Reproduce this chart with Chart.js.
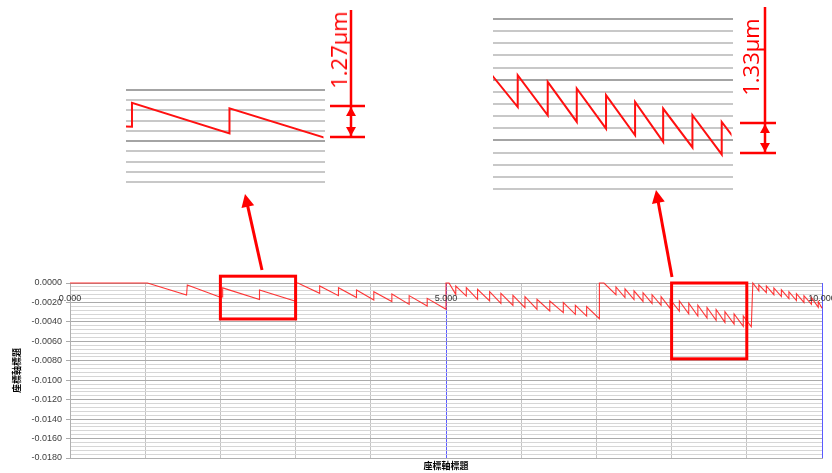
<!DOCTYPE html>
<html>
<head>
<meta charset="utf-8">
<script src="https://cdn.jsdelivr.net/npm/chart.js@4.4.0/dist/chart.umd.min.js"></script>
<style>
  html, body { margin: 0; padding: 0; background: #fff; }
  #wrap { position: relative; width: 832px; height: 473px; overflow: hidden; }
  canvas { position: absolute; }
  .dim {
    position: absolute; color: #ff0000; font-family: "Open Sans", sans-serif;
    font-size: 22px; line-height: 1; white-space: nowrap;
    transform: translate(-50%, -50%) rotate(-90deg);
  }
</style>
</head>
<body>
<div id="wrap">
  <canvas id="main" width="832" height="473" style="left:0;top:0"></canvas>
  <canvas id="zoomA" width="203" height="96" style="left:124px;top:88px"></canvas>
  <canvas id="zoomB" width="244" height="174" style="left:491px;top:17px"></canvas>
  <div class="dim" style="left:338px;top:50px">1.27μm</div>
  <div class="dim" style="left:750px;top:57px">1.33μm</div>
</div>
<script>
// measured profile, one array per pass: [position, deviation]
const pass1 = [[0, 0], [1.03, 0]];
const pass2 = [[1.55, -0.00123], [1.56, -0.0002], [1.99, -0.00143], [2.03, -0.00144]];
const pass3 = [[2.03, -0.0005], [2.52, -0.0017], [2.52, -0.00072], [3.0, -0.00187]];
const pass4 = [[3.0, 0], [3.03, 0], [3.32, -0.00106], [3.32, -0.0003], [3.57, -0.0013], [3.57, -0.00048],
               [3.81, -0.0015], [3.81, -0.00072], [4.04, -0.00175], [4.04, -0.0009], [4.28, -0.0019],
               [4.28, -0.00113], [4.51, -0.0022], [4.51, -0.0013], [4.75, -0.00237], [4.75, -0.00158],
               [5.0, -0.0027]];
const pass5 = [[5.0, 0], [5.04, 0], [5.13, -0.00117], [5.13, -0.00031], [5.27, -0.00134], [5.27, -0.00048],
               [5.42, -0.00168], [5.42, -0.00065], [5.58, -0.00185], [5.58, -0.00089], [5.73, -0.00209],
               [5.73, -0.00106], [5.89, -0.0023], [5.89, -0.00127], [6.05, -0.00254], [6.05, -0.0014],
               [6.21, -0.00271], [6.21, -0.00168], [6.38, -0.00288], [6.38, -0.00185], [6.56, -0.00305],
               [6.56, -0.00202], [6.72, -0.00322], [6.72, -0.0023], [6.87, -0.0034], [6.87, -0.00243],
               [7.04, -0.00367]];
const pass6 = [[7.04, 0], [7.10, 0], [7.26, -0.0012], [7.26, -0.0004], [7.38, -0.0015], [7.38, -0.0006],
               [7.50, -0.0017], [7.50, -0.0008], [7.62, -0.0019], [7.62, -0.0010], [7.74, -0.0021],
               [7.74, -0.0012], [7.86, -0.0023], [7.86, -0.0014], [7.98, -0.0026], [7.98, -0.0017],
               [8.103, -0.0029], [8.103, -0.00185], [8.228, -0.00317], [8.228, -0.00207], [8.349, -0.00339],
               [8.349, -0.00229], [8.471, -0.00361], [8.471, -0.00251], [8.592, -0.00383], [8.592, -0.00273],
               [8.709, -0.00405], [8.709, -0.00295], [8.831, -0.00423], [8.831, -0.00317], [8.953, -0.00446],
               [8.953, -0.00339], [9.06, -0.0045]];
const pass7 = [[9.08, 0], [9.16, -0.0008], [9.16, -0.0002], [9.26, -0.0010], [9.26, -0.0003], [9.36, -0.0012],
               [9.36, -0.0005], [9.46, -0.0014], [9.46, -0.0007], [9.56, -0.0016], [9.56, -0.0009],
               [9.66, -0.0018], [9.66, -0.0011], [9.76, -0.0020], [9.76, -0.0013], [9.86, -0.0022],
               [9.86, -0.0015], [9.95, -0.0025], [9.95, -0.0019], [10.0, -0.0026]];

const yTickValues = [0, -0.002, -0.004, -0.006, -0.008, -0.010, -0.012, -0.014, -0.016, -0.018];
const yTickLabels = ["0.0000", "-0.0020", "-0.0040", "-0.0060", "-0.0080", "-0.0100",
                     "-0.0120", "-0.0140", "-0.0160", "-0.0180"];
const xGridValues = [0, 1, 2, 3, 4, 5, 6, 7, 8, 9, 10];
const xLabelValues = [0, 5, 10];
const xLabels = ["0.000", "5.000", "10.000"];
const axisTitle = "座標軸標題";

// zoomed regions of the main plot (data units)
const zoomBoxes = [
    { x0: 2.0, x1: 3.0, y0: 0.0007, y1: -0.0037 },
    { x0: 8.0, x1: 9.0, y0: 0.0,    y1: -0.0078 },
];

const points = [...pass1, ...pass2, ...pass3, ...pass4, ...pass5, ...pass6, ...pass7]
    .map(([x, y]) => ({ x, y }));

const RED = "#ff0000";
const LABEL_FONT = '"Liberation Sans", Arial, sans-serif';

function isMajor(v) {
    const r = v / 0.002;
    return Math.abs(r - Math.round(r)) < 1e-6;
}

// minor grid every 0.0004 down to the axis minimum
function gridTicks(min) {
    const out = [];
    const n = Math.round(-min / 0.0004);
    for (let i = 0; i <= n; i++) out.push({ value: -i * 4 / 10000 });
    return out;
}

function arrow(ctx, x0, y0, x1, y1, head) {
    const a = Math.atan2(y1 - y0, x1 - x0);
    const c = Math.cos(a), s = Math.sin(a);
    ctx.beginPath();
    ctx.moveTo(x0, y0);
    ctx.lineTo(x1 - c * head * 0.8, y1 - s * head * 0.8);
    ctx.stroke();
    ctx.beginPath();
    ctx.moveTo(x1, y1);
    ctx.lineTo(x1 - head * c + head * 0.5 * s, y1 - head * s - head * 0.5 * c);
    ctx.lineTo(x1 - head * c - head * 0.5 * s, y1 - head * s + head * 0.5 * c);
    ctx.closePath();
    ctx.fill();
}

function dimension(ctx, x, yTop, y1, y2, xa, xb) {
    ctx.lineWidth = 2.5;
    ctx.beginPath();
    ctx.moveTo(x, yTop); ctx.lineTo(x, y2);
    ctx.moveTo(xa, y1);  ctx.lineTo(xb, y1);
    ctx.moveTo(xa, y2);  ctx.lineTo(xb, y2);
    ctx.stroke();
    // double-headed arrow between the two ticks
    ctx.beginPath();
    ctx.moveTo(x, y1 + 1); ctx.lineTo(x - 5, y1 + 10); ctx.lineTo(x + 5, y1 + 10); ctx.closePath();
    ctx.moveTo(x, y2 - 1); ctx.lineTo(x - 5, y2 - 10); ctx.lineTo(x + 5, y2 - 10); ctx.closePath();
    ctx.fill();
}

const overlay = {
    id: "overlay",
    afterDraw(chart) {
        const { ctx, scales: { x, y } } = chart;
        ctx.save();

        /* x labels sit just under the zero line */
        ctx.font = "9px " + LABEL_FONT;
        ctx.fillStyle = "#333";
        ctx.textAlign = "center";
        ctx.textBaseline = "middle";
        const ly = y.getPixelForValue(0) + 16;
        xLabelValues.forEach((v, i) => ctx.fillText(xLabels[i], x.getPixelForValue(v), ly));

        /* zoom boxes */
        ctx.strokeStyle = RED;
        ctx.fillStyle = RED;
        ctx.lineWidth = 3;
        zoomBoxes.forEach(b => {
            const l = x.getPixelForValue(b.x0), r = x.getPixelForValue(b.x1);
            const t = y.getPixelForValue(b.y0), btm = y.getPixelForValue(b.y1);
            ctx.strokeRect(l, t, r - l, btm - t);
        });

        /* arrows to the insets */
        arrow(ctx, 262, 270, 245, 194, 13);
        arrow(ctx, 672, 277, 656, 190, 13);

        /* dimension marks */
        dimension(ctx, 351, 10, 106, 137, 330, 365);
        dimension(ctx, 765, 7, 123, 153, 740, 776);

        ctx.restore();
    }
};

new Chart(document.getElementById("main"), {
    type: "scatter",
    data: {
        datasets: [{
            data: points,
            showLine: true,
            borderColor: "rgba(255,20,20,0.85)",
            borderWidth: 1.1,
            pointRadius: 0,
            tension: 0,
            clip: false,
        }]
    },
    options: {
        responsive: false,
        animation: false,
        events: [],
        layout: { padding: { top: 283, right: 10, bottom: 0, left: 0 } },
        plugins: { legend: { display: false }, tooltip: { enabled: false } },
        scales: {
            x: {
                type: "linear", min: 0, max: 10,
                afterBuildTicks: s => { s.ticks = xGridValues.map(v => ({ value: v })); },
                afterFit: s => { s.height = 15; },
                ticks: { display: false },
                grid: {
                    drawTicks: false,
                    color: c => (c.tick && (c.tick.value === 5 || c.tick.value === 10)) ? "#5a5aff" : "#c4c4c4",
                },
                border: { color: "#b0b0b0" },
                title: {
                    display: true, text: axisTitle, color: "#000",
                    font: { size: 9, weight: "bold", family: '"Noto Sans CJK TC", sans-serif' },
                    padding: { top: 0, bottom: 2 },
                },
            },
            y: {
                min: -0.018, max: 0,
                afterBuildTicks: s => { s.ticks = gridTicks(-0.018); },
                afterFit: s => { s.width = 70; },
                ticks: {
                    autoSkip: false, padding: 4, color: "#404040",
                    font: { size: 9, family: LABEL_FONT },
                    callback: v => {
                        const i = yTickValues.findIndex(t => Math.abs(t - v) < 1e-9);
                        return i >= 0 ? yTickLabels[i] : "";
                    },
                },
                grid: {
                    tickLength: 4,
                    color: c => (c.tick && isMajor(c.tick.value)) ? "#ababab" : "#d6d6d6",
                    tickColor: c => (c.tick && isMajor(c.tick.value)) ? "#ababab" : "rgba(0,0,0,0)",
                },
                border: { color: "#b0b0b0" },
                title: {
                    display: true, text: axisTitle, color: "#000",
                    font: { size: 9, weight: "bold", family: '"Noto Sans CJK TC", sans-serif' },
                    padding: { top: 11, bottom: 0 },
                },
            },
        },
    },
    plugins: [overlay],
});

function inset(id, xMin, xMax, yMin) {
    new Chart(document.getElementById(id), {
        type: "scatter",
        data: {
            datasets: [{
                data: points, showLine: true, borderColor: "#ff1010",
                borderWidth: 2, pointRadius: 0, tension: 0,
                clip: { left: 0, top: 2, right: -1.5, bottom: 2 },
            }]
        },
        options: {
            responsive: false,
            animation: false,
            events: [],
            layout: { padding: 2 },
            plugins: { legend: { display: false }, tooltip: { enabled: false } },
            scales: {
                x: { type: "linear", display: false, min: xMin, max: xMax },
                y: {
                    min: yMin, max: 0,
                    afterBuildTicks: s => { s.ticks = gridTicks(yMin); },
                    ticks: { display: false },
                    border: { display: false },
                    grid: {
                        drawTicks: false, lineWidth: 2,
                        color: c => (c.tick && isMajor(c.tick.value)) ? "#a4a4a4" : "#c8c8c8",
                    },
                },
            },
        },
    });
}

inset("zoomA", 2, 3, -0.0036);
inset("zoomB", 8, 9, -0.0056);
</script>
</body>
</html>
